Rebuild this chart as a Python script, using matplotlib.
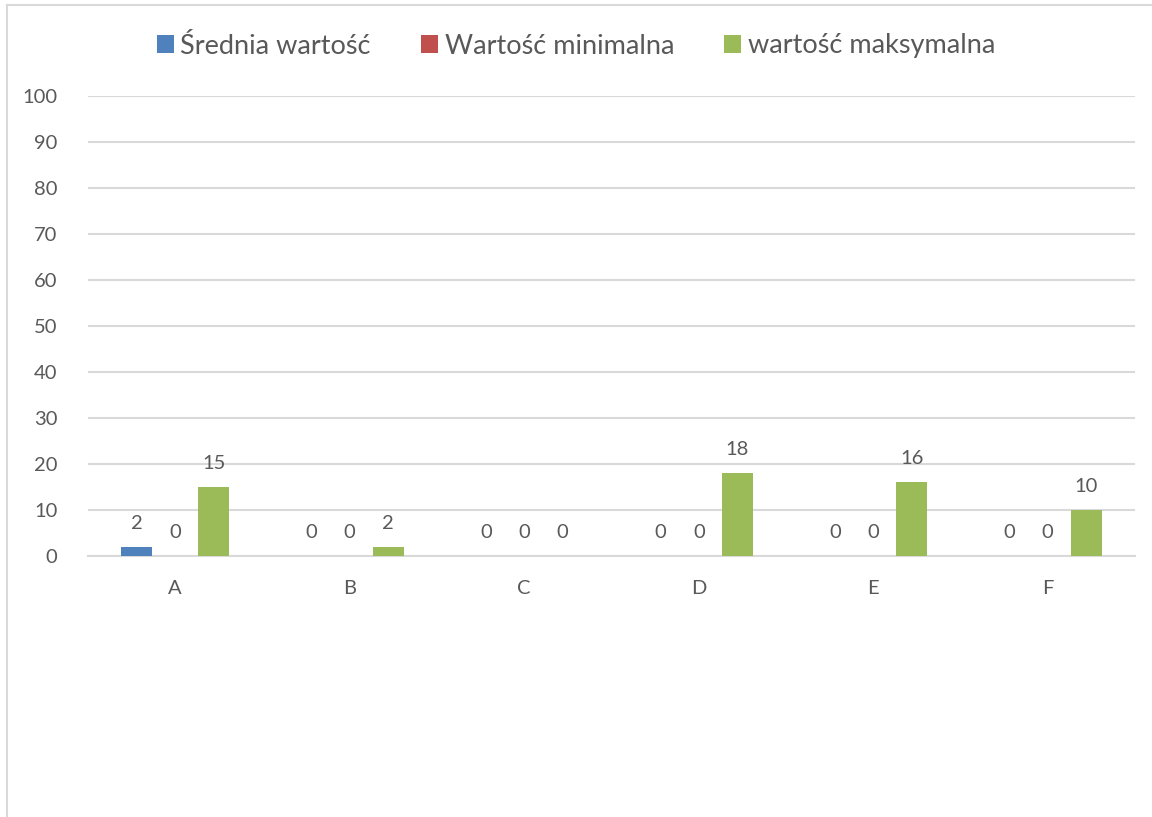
import numpy as np
import matplotlib.pyplot as plt
from matplotlib.lines import Line2D

plt.rcParams['font.family'] = ['Lato', 'DejaVu Sans']

categories = ['A', 'B', 'C', 'D', 'E', 'F']
srednia = [2, 0, 0, 0, 0, 0]
minimalna = [0, 0, 0, 0, 0, 0]
maksymalna = [15, 2, 0, 18, 16, 10]

series = [
    ('Średnia wartość', srednia, '#4f81bd'),
    ('Wartość minimalna', minimalna, '#c0504d'),
    ('wartość maksymalna', maksymalna, '#9bbb59'),
]

text_color = '#595959'
grid_color = '#d9d9d9'

fig = plt.figure(figsize=(11.52, 8.17), dpi=100)
ax = fig.add_axes([88 / 1152, 1 - 556 / 817, (1135 - 88) / 1152, (556 - 96) / 817])

x = np.arange(len(categories))
step = 0.22
width = 0.178
for i, (name, vals, color) in enumerate(series):
    bars = ax.bar(x + (i - 1) * step, vals, width, color=color, label=name, zorder=3)
    ax.bar_label(bars, padding=11, fontsize=14.5, color=text_color)

ax.set_xlim(-0.5, len(categories) - 0.5)
ax.set_ylim(0, 100)
ax.set_yticks(range(0, 101, 10))
ax.set_xticks(x)
ax.set_xticklabels(categories)
ax.tick_params(axis='both', length=0, labelsize=14.5, labelcolor=text_color)
ax.tick_params(axis='x', pad=17)
ax.tick_params(axis='y', pad=22)
ax.grid(axis='y', color=grid_color, linewidth=1.5, zorder=0)
for side in ['top', 'right', 'left']:
    ax.spines[side].set_visible(False)
ax.spines['bottom'].set_color(grid_color)
ax.spines['bottom'].set_linewidth(1.5)

fig.legend(loc='center', bbox_to_anchor=(0.5, 1 - 46 / 817), ncol=3, frameon=False,
           fontsize=19.5, labelcolor=text_color, handlelength=0.62, handleheight=0.62,
           handletextpad=0.25, columnspacing=1.85)

# ramka wykresu
fig.add_artist(Line2D([7 / 1152, 7 / 1152], [0, 1 - 5 / 817], color=grid_color, linewidth=1.5))
fig.add_artist(Line2D([7 / 1152, 1], [1 - 5 / 817, 1 - 5 / 817], color=grid_color, linewidth=1.5))

fig.savefig('out.png', dpi=100)
